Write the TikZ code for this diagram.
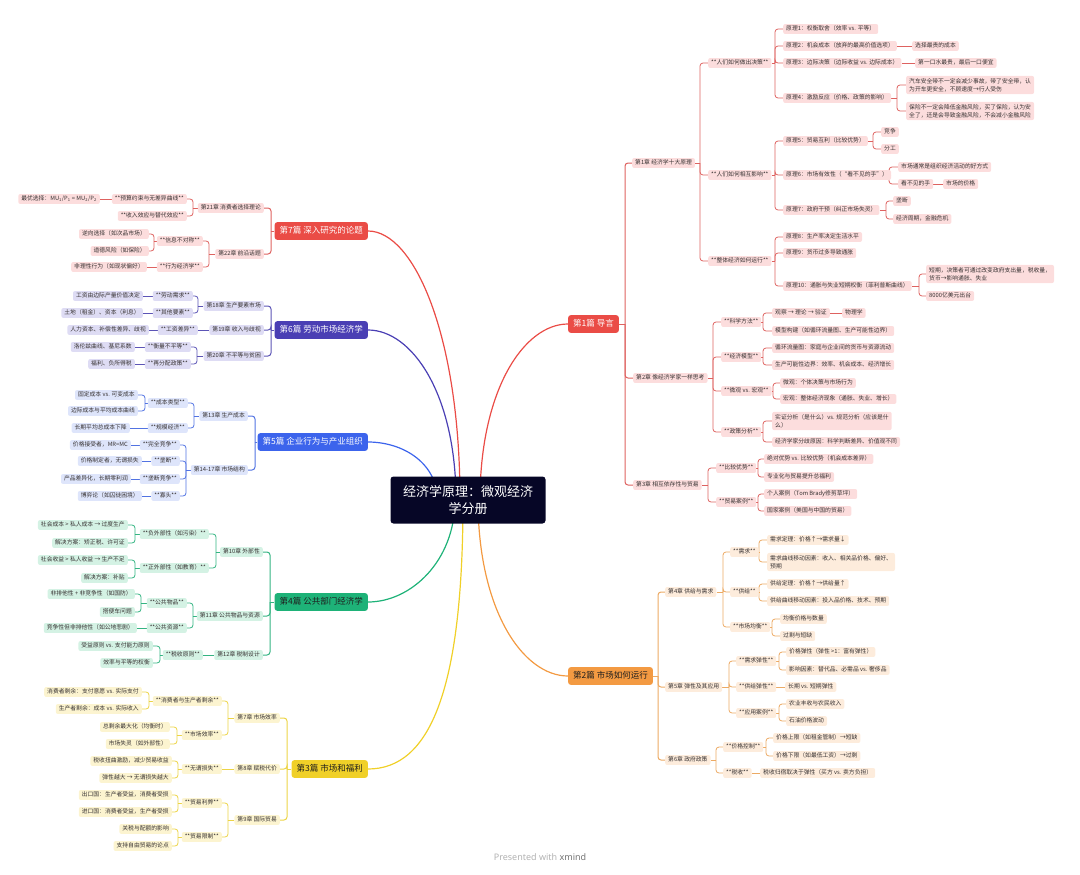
\documentclass[tikz,border=0pt]{standalone}
\usepackage{fontspec}
\setmainfont{Noto Sans CJK SC}
\newfontfamily\footfont{Noto Sans}
\usetikzlibrary{backgrounds}
\definecolor{rootc}{RGB}{6,6,38}
\definecolor{txt}{RGB}{55,50,50}
\definecolor{txtD}{RGB}{30,30,30}
\definecolor{rM}{RGB}{234,76,70}
\definecolor{rC}{RGB}{222,98,96}
\definecolor{rF}{RGB}{252,221,221}
\definecolor{oM}{RGB}{243,154,66}
\definecolor{oC}{RGB}{236,170,100}
\definecolor{oF}{RGB}{253,236,220}
\definecolor{pM}{RGB}{74,63,180}
\definecolor{pC}{RGB}{92,84,182}
\definecolor{pF}{RGB}{222,220,244}
\definecolor{bM}{RGB}{60,100,236}
\definecolor{bC}{RGB}{82,115,226}
\definecolor{bF}{RGB}{222,229,251}
\definecolor{gM}{RGB}{30,178,120}
\definecolor{gC}{RGB}{52,180,130}
\definecolor{gF}{RGB}{212,242,228}
\definecolor{yM}{RGB}{240,208,40}
\definecolor{yC}{RGB}{236,212,70}
\definecolor{yF}{RGB}{252,244,208}
\newcommand\conR[4]{%
  \coordinate (T0) at (#3,0);
  \draw[#1] (#2.east) -- (#2.east -| T0);
  \foreach \kid in {#4}{\draw[#1,rounded corners=3pt] (#2.east -| T0) |- (\kid.west);}
}
\newcommand\conL[4]{%
  \coordinate (T0) at (#3,0);
  \draw[#1] (#2.west) -- (#2.west -| T0);
  \foreach \kid in {#4}{\draw[#1,rounded corners=3pt] (#2.west -| T0) |- (\kid.east);}
}
\newcommand\oneR[3]{\draw[#1] (#2.east) -- (#3.west);}
\newcommand\oneL[3]{\draw[#1] (#2.west) -- (#3.east);}
\begin{document}
\begin{tikzpicture}[x=1pt,y=-1pt,
  nb/.style={rounded corners=2pt, inner xsep=3pt, inner ysep=1.9pt, font=\fontsize{5.8}{8}\selectfont, text=txt},
  sn/.style={nb, text height=4.9pt, text depth=1.2pt},
  ml/.style={text height={}, text depth={}, align=left, inner ysep=2.4pt},
  rR/.style={sn, fill=rF, anchor=west},
  rL/.style={sn, fill=rF, anchor=east},
  oR/.style={sn, fill=oF, anchor=west},
  pL/.style={sn, fill=pF, anchor=east},
  bL/.style={sn, fill=bF, anchor=east},
  gL/.style={sn, fill=gF, anchor=east},
  yL/.style={sn, fill=yF, anchor=east},
  mainnode/.style={rounded corners=2.5pt, inner xsep=5pt, inner ysep=4.5pt, text height=6.8pt, text depth=1.8pt, font=\fontsize{8.5}{10}\selectfont},
  lr/.style={draw=rC, line width=0.8pt},
  lo/.style={draw=oC, line width=0.8pt},
  lp/.style={draw=pC, line width=0.8pt},
  lb/.style={draw=bC, line width=0.8pt},
  lg/.style={draw=gC, line width=0.8pt},
  ly/.style={draw=yC, line width=0.8pt},
  rootcurve/.style={line width=1.2pt}
]
\useasboundingbox (0,0) rectangle (1080,875);

% root
\node[fill=rootc, text=white, rounded corners=3pt, align=center, font=\fontsize{13}{17}\selectfont, inner xsep=10pt, inner ysep=7pt, minimum width=155pt, minimum height=47pt] (root) at (468,500) {经济学原理：微观经济\\学分册};

% ===== Part 1 (red, right)
\node[mainnode, fill=rM, text=white, anchor=west] (M1) at (568,324) {第1篇 导言};
\node[rR] (c1) at (632,163) {第1章 经济学十大原理};
\node[rR] (d1) at (708,63) {**人们如何做出决策**};
\node[rR] (p1) at (783,29) {原理1：权衡取舍（效率 vs. 平等）};
\node[rR] (p2) at (783,46) {原理2：机会成本（放弃的最高价值选项）};
\node[rR] (p2a) at (912,46) {选择最贵的成本};
\node[rR] (p3) at (783,63) {原理3：边际决策（边际收益 vs. 边际成本）};
\node[rR] (p3a) at (915,63) {第一口水最贵，最后一口便宜};
\node[rR] (p4) at (783,98) {原理4：激励反应（价格、政策的影响）};
\node[rR,ml] (p4a) at (906,85) {汽车安全带不一定会减少事故，带了安全带，认\\为开车更安全，不顾速度→行人受伤};
\node[rR,ml] (p4b) at (906,111) {保险不一定会降低金融风险，买了保险，认为安\\全了，还是会导致金融风险，不会减小金融风险};
\node[rR] (d2) at (708,175) {**人们如何相互影响**};
\node[rR] (p5) at (783,141) {原理5：贸易互利（比较优势）};
\node[rR] (p5a) at (881,132) {竞争};
\node[rR] (p5b) at (881,149) {分工};
\node[rR] (p6) at (783,175) {原理6：市场有效性（“看不见的手”）};
\node[rR] (p6a) at (898,167) {市场通常是组织经济活动的好方式};
\node[rR] (p6b) at (898,184) {看不见的手};
\node[rR] (p6c) at (943,184) {市场的价格};
\node[rR] (p7) at (783,210) {原理7：政府干预（纠正市场失灵）};
\node[rR] (p7a) at (893,201) {垄断};
\node[rR] (p7b) at (893,219) {经济周期，金融危机};
\node[rR] (d3) at (708,261) {**整体经济如何运行**};
\node[rR] (p8) at (783,237) {原理8：生产率决定生活水平};
\node[rR] (p9) at (783,253) {原理9：货币过多导致通胀};
\node[rR] (p10) at (783,286) {原理10：通胀与失业短期权衡（菲利普斯曲线）};
\node[rR,ml] (p10a) at (926,274) {短期，决策者可通过改变政府支出量，税收量，\\货币→影响通胀、失业};
\node[rR] (p10b) at (926,296) {8000亿美元出台};
\node[rR] (c2) at (633,378) {第2章 像经济学家一样思考};
\node[rR] (e1) at (721,322) {**科学方法**};
\node[rR] (e1a) at (772,313) {观察 → 理论 → 验证};
\node[rR] (e1b) at (842,313) {物理学};
\node[rR] (e1c) at (772,331) {模型构建（如循环流量图、生产可能性边界）};
\node[rR] (e2) at (721,357) {**经济模型**};
\node[rR] (e2a) at (772,348) {循环流量图：家庭与企业间的货币与资源流动};
\node[rR] (e2b) at (772,365) {生产可能性边界：效率、机会成本、经济增长};
\node[rR] (e3) at (721,391) {**微观 vs. 宏观**};
\node[rR] (e3a) at (780,383) {微观：个体决策与市场行为};
\node[rR] (e3b) at (780,399) {宏观：整体经济现象（通胀、失业、增长）};
\node[rR] (e4) at (721,432) {**政策分析**};
\node[rR,ml] (e4a) at (772,421) {实证分析（是什么）vs. 规范分析（应该是什\\么）};
\node[rR] (e4b) at (772,442) {经济学家分歧原因：科学判断差异、价值观不同};
\node[rR] (c3) at (633,485) {第3章 相互依存性与贸易};
\node[rR] (f1) at (716,468) {**比较优势**};
\node[rR] (f1a) at (764,459) {绝对优势 vs. 比较优势（机会成本差异）};
\node[rR] (f1b) at (764,477) {专业化与贸易提升总福利};
\node[rR] (f2) at (716,502) {**贸易案例**};
\node[rR] (f2a) at (764,494) {个人案例（Tom Brady修剪草坪）};
\node[rR] (f2b) at (764,511) {国家案例（美国与中国的贸易）};

% ===== Part 2 (orange, right)
\node[mainnode, fill=oM, text=txtD, anchor=west] (M2) at (568,676) {第2篇 市场如何运行};
\node[oR] (c4) at (665,592) {第4章 供给与需求};
\node[oR] (g1) at (730,552) {**需求**};
\node[oR] (g1a) at (767,540) {需求定理：价格↑→需求量↓};
\node[oR,ml] (g1b) at (767,562) {需求曲线移动因素：收入、相关品价格、偏好、\\预期};
\node[oR] (g2) at (730,592) {**供给**};
\node[oR] (g2a) at (767,584) {供给定理：价格↑→供给量↑};
\node[oR] (g2b) at (767,601) {供给曲线移动因素：投入品价格、技术、预期};
\node[oR] (g3) at (730,627) {**市场均衡**};
\node[oR] (g3a) at (780,619) {均衡价格与数量};
\node[oR] (g3b) at (780,636) {过剩与短缺};
\node[oR] (c5) at (665,687) {第5章 弹性及其应用};
\node[oR] (h1) at (736,661) {**需求弹性**};
\node[oR] (h1a) at (786,652) {价格弹性（弹性 >1：富有弹性）};
\node[oR] (h1b) at (786,670) {影响因素：替代品、必需品 vs. 奢侈品};
\node[oR] (h2) at (736,687) {**供给弹性**};
\node[oR] (h2a) at (785,687) {长期 vs. 短期弹性};
\node[oR] (h3) at (736,713) {**应用案例**};
\node[oR] (h3a) at (786,704) {农业丰收与农民收入};
\node[oR] (h3b) at (786,721) {石油价格波动};
\node[oR] (c6) at (665,760) {第6章 政府政策};
\node[oR] (i1) at (723,747) {**价格控制**};
\node[oR] (i1a) at (773,738) {价格上限（如租金管制）→短缺};
\node[oR] (i1b) at (773,756) {价格下限（如最低工资）→过剩};
\node[oR] (i2) at (723,773) {**税收**};
\node[oR] (i2a) at (760,773) {税收归宿取决于弹性（买方 vs. 卖方负担）};

% ===== Part 7 (red, left)
\node[mainnode, fill=rM, text=white, anchor=east] (M7) at (368,231) {第7篇 深入研究的论题};
\node[rL] (j1) at (264,208) {第21章 消费者选择理论};
\node[rL] (j1a) at (187,199) {**预算约束与无差异曲线**};
\node[rL] (j1b) at (100,199) {最优选择：MU\textsubscript{1}/P\textsubscript{1} = MU\textsubscript{2}/P\textsubscript{2}};
\node[rL] (j1c) at (187,216) {**收入效应与替代效应**};
\node[rL] (j2) at (264,254) {第22章 前沿话题};
\node[rL] (j2a) at (203,241) {**信息不对称**};
\node[rL] (j2b) at (149,234) {逆向选择（如次品市场）};
\node[rL] (j2c) at (149,251) {道德风险（如保险）};
\node[rL] (j2d) at (203,267) {**行为经济学**};
\node[rL] (j2e) at (147,267) {非理性行为（如现状偏好）};

% ===== Part 6 (purple, left)
\node[mainnode, fill=pM, text=white, anchor=east] (M6) at (368,330) {第6篇 劳动市场经济学};
\node[pL] (k1) at (264,306) {第18章 生产要素市场};
\node[pL] (k1a) at (193,296) {**劳动需求**};
\node[pL] (k1b) at (143,296) {工资由边际产量价值决定};
\node[pL] (k1c) at (193,313) {**其他要素**};
\node[pL] (k1d) at (143,313) {土地（租金）、资本（利息）};
\node[pL] (k2) at (264,330) {第19章 收入与歧视};
\node[pL] (k2a) at (198,330) {**工资差异**};
\node[pL] (k2b) at (149,330) {人力资本、补偿性差异、歧视};
\node[pL] (k3) at (264,356) {第20章 不平等与贫困};
\node[pL] (k3a) at (191,347) {**衡量不平等**};
\node[pL] (k3b) at (135,347) {洛伦兹曲线、基尼系数};
\node[pL] (k3c) at (191,364) {**再分配政策**};
\node[pL] (k3d) at (135,364) {福利、负所得税};

% ===== Part 5 (blue, left)
\node[mainnode, fill=bM, text=white, anchor=east] (M5) at (368,442) {第5篇 企业行为与产业组织};
\node[bL] (l1) at (248,416) {第13章 生产成本};
\node[bL] (l1a) at (188,403) {**成本类型**};
\node[bL] (l1b) at (138,395) {固定成本 vs. 可变成本};
\node[bL] (l1c) at (138,411) {边际成本与平均成本曲线};
\node[bL] (l1d) at (188,428) {**规模经济**};
\node[bL] (l1e) at (130,428) {长期平均总成本下降};
\node[bL] (l2) at (248,470) {第14-17章 市场结构};
\node[bL] (l2a) at (180,445) {**完全竞争**};
\node[bL] (l2b) at (131,445) {价格接受者，MR=MC};
\node[bL] (l2c) at (180,461) {**垄断**};
\node[bL] (l2d) at (142,461) {价格制定者，无谓损失};
\node[bL] (l2e) at (180,479) {**垄断竞争**};
\node[bL] (l2f) at (131,479) {产品差异化，长期零利润};
\node[bL] (l2g) at (180,496) {**寡头**};
\node[bL] (l2h) at (142,496) {博弈论（如囚徒困境）};

% ===== Part 4 (green, left)
\node[mainnode, fill=gM, text=txtD, anchor=east] (M4) at (368,602) {第4篇 公共部门经济学};
\node[gL] (m1) at (263,552) {第10章 外部性};
\node[gL] (m1a) at (209,534) {**负外部性（如污染）**};
\node[gL] (m1b) at (128,525) {社会成本 > 私人成本 → 过度生产};
\node[gL] (m1c) at (128,543) {解决方案：矫正税、许可证};
\node[gL] (m1d) at (209,568) {**正外部性（如教育）**};
\node[gL] (m1e) at (128,560) {社会收益 > 私人收益 → 生产不足};
\node[gL] (m1f) at (128,578) {解决方案：补贴};
\node[gL] (m2) at (263,616) {第11章 公共物品与资源};
\node[gL] (m2a) at (187,603) {**公共物品**};
\node[gL] (m2b) at (135,594) {非排他性 + 非竞争性（如国防）};
\node[gL] (m2c) at (135,612) {搭便车问题};
\node[gL] (m2d) at (187,628) {**公共资源**};
\node[gL] (m2e) at (137,628) {竞争性但非排他性（如公地悲剧）};
\node[gL] (m3) at (263,655) {第12章 税制设计};
\node[gL] (m3a) at (203,655) {**税收原则**};
\node[gL] (m3b) at (153,646) {受益原则 vs. 支付能力原则};
\node[gL] (m3c) at (153,663) {效率与平等的权衡};

% ===== Part 3 (yellow, left)
\node[mainnode, fill=yM, text=txtD, anchor=east] (M3) at (368,769) {第3篇 市场和福利};
\node[yL] (n1) at (280,718) {第7章 市场效率};
\node[yL] (n1a) at (222,701) {**消费者与生产者剩余**};
\node[yL] (n1b) at (142,692) {消费者剩余：支付意愿 vs. 实际支付};
\node[yL] (n1c) at (142,709) {生产者剩余：成本 vs. 实际收入};
\node[yL] (n1d) at (222,735) {**市场效率**};
\node[yL] (n1e) at (170,727) {总剩余最大化（均衡时）};
\node[yL] (n1f) at (170,744) {市场失灵（如外部性）};
\node[yL] (n2) at (280,769) {第8章 赋税代价};
\node[yL] (n2a) at (222,769) {**无谓损失**};
\node[yL] (n2b) at (172,761) {税收扭曲激励，减少贸易收益};
\node[yL] (n2c) at (172,778) {弹性越大 → 无谓损失越大};
\node[yL] (n3) at (280,820) {第9章 国际贸易};
\node[yL] (n3a) at (222,803) {**贸易利弊**};
\node[yL] (n3b) at (172,795) {出口国：生产者受益，消费者受损};
\node[yL] (n3c) at (172,812) {进口国：消费者受益，生产者受损};
\node[yL] (n3d) at (222,837) {**贸易限制**};
\node[yL] (n3e) at (172,829) {关税与配额的影响};
\node[yL] (n3f) at (172,846) {支持自由贸易的论点};

% footer
\node[font=\footfont\fontsize{9}{10}\selectfont, text=black!30] (ft) at (540,857) {Presented with {\color{black!55}\bfseries xmind}};

\begin{pgfonlayer}{background}
% root curves
\draw[rootcurve, draw=rM] ([xshift=12pt]root.center) .. controls (480,390) and (524,324) .. (M1.west);
\draw[rootcurve, draw=oM] ([xshift=10pt]root.center) .. controls (478,610) and (523,676) .. (M2.west);
\draw[rootcurve, draw=rM] ([xshift=-8pt]root.center) .. controls (460,335) and (414,231) .. (M7.east);
\draw[rootcurve, draw=pM] ([xshift=-12pt]root.center) .. controls (456,394) and (412,330) .. (M6.east);
\draw[rootcurve, draw=bM] ([xshift=-30pt]root.center) .. controls (436,460) and (400,442) .. (M5.east);
\draw[rootcurve, draw=gM] ([xshift=-13pt]root.center) .. controls (455,561) and (411,602) .. (M4.east);
\draw[rootcurve, draw=yM] ([xshift=-5pt]root.center) .. controls (463,690) and (430,769) .. (M3.east);

% part 1
\conR{lr,line width=1pt}{M1}{625}{c1,c2,c3}
\conR{lr}{c1}{700}{d1,d2,d3}
\conR{lr}{d1}{775}{p1,p2,p3,p4}
\oneR{lr}{p2}{p2a}
\oneR{lr}{p3}{p3a}
\conR{lr}{p4}{897}{p4a,p4b}
\conR{lr}{d2}{775}{p5,p6,p7}
\conR{lr}{p5}{873}{p5a,p5b}
\conR{lr}{p6}{889}{p6a,p6b}
\oneR{lr}{p6b}{p6c}
\conR{lr}{p7}{886}{p7a,p7b}
\conR{lr}{d3}{775}{p8,p9,p10}
\conR{lr}{p10}{919}{p10a,p10b}
\conR{lr}{c2}{713}{e1,e2,e3,e4}
\conR{lr}{e1}{763}{e1a,e1c}
\oneR{lr}{e1a}{e1b}
\conR{lr}{e2}{763}{e2a,e2b}
\conR{lr}{e3}{773}{e3a,e3b}
\conR{lr}{e4}{763}{e4a,e4b}
\conR{lr}{c3}{708}{f1,f2}
\conR{lr}{f1}{758}{f1a,f1b}
\conR{lr}{f2}{758}{f2a,f2b}

% part 2
\conR{lo,line width=1pt}{M2}{658}{c4,c5,c6}
\conR{lo}{c4}{723}{g1,g2,g3}
\conR{lo}{g1}{759}{g1a,g1b}
\conR{lo}{g2}{759}{g2a,g2b}
\conR{lo}{g3}{772}{g3a,g3b}
\conR{lo}{c5}{729}{h1,h2,h3}
\conR{lo}{h1}{779}{h1a,h1b}
\oneR{lo}{h2}{h2a}
\conR{lo}{h3}{779}{h3a,h3b}
\conR{lo}{c6}{716}{i1,i2}
\conR{lo}{i1}{766}{i1a,i1b}
\oneR{lo}{i2}{i2a}

% part 7
\conL{lr,line width=1pt}{M7}{271}{j1,j2}
\conL{lr}{j1}{193}{j1a,j1c}
\oneL{lr}{j1a}{j1b}
\conL{lr}{j2}{209}{j2a,j2d}
\conL{lr}{j2a}{154}{j2b,j2c}
\oneL{lr}{j2d}{j2e}

% part 6
\conL{lp,line width=1pt}{M6}{271}{k1,k2,k3}
\conL{lp}{k1}{198}{k1a,k1c}
\oneL{lp}{k1a}{k1b}
\oneL{lp}{k1c}{k1d}
\oneL{lp}{k2}{k2a}
\oneL{lp}{k2a}{k2b}
\conL{lp}{k3}{197}{k3a,k3c}
\oneL{lp}{k3a}{k3b}
\oneL{lp}{k3c}{k3d}

% part 5
\conL{lb,line width=1pt}{M5}{255}{l1,l2}
\conL{lb}{l1}{194}{l1a,l1d}
\conL{lb}{l1a}{145}{l1b,l1c}
\oneL{lb}{l1d}{l1e}
\conL{lb}{l2}{186}{l2a,l2c,l2e,l2g}
\oneL{lb}{l2a}{l2b}
\oneL{lb}{l2c}{l2d}
\oneL{lb}{l2e}{l2f}
\oneL{lb}{l2g}{l2h}

% part 4
\conL{lg,line width=1pt}{M4}{270}{m1,m2,m3}
\conL{lg}{m1}{216}{m1a,m1d}
\conL{lg}{m1a}{135}{m1b,m1c}
\conL{lg}{m1d}{135}{m1e,m1f}
\conL{lg}{m2}{193}{m2a,m2d}
\conL{lg}{m2a}{141}{m2b,m2c}
\oneL{lg}{m2d}{m2e}
\oneL{lg}{m3}{m3a}
\conL{lg}{m3a}{160}{m3b,m3c}

% part 3
\conL{ly,line width=1pt}{M3}{287}{n1,n2,n3}
\conL{ly}{n1}{228}{n1a,n1d}
\conL{ly}{n1a}{149}{n1b,n1c}
\conL{ly}{n1d}{177}{n1e,n1f}
\oneL{ly}{n2}{n2a}
\conL{ly}{n2a}{178}{n2b,n2c}
\conL{ly}{n3}{228}{n3a,n3d}
\conL{ly}{n3a}{178}{n3b,n3c}
\conL{ly}{n3d}{178}{n3e,n3f}
\end{pgfonlayer}
\end{tikzpicture}
\end{document}
